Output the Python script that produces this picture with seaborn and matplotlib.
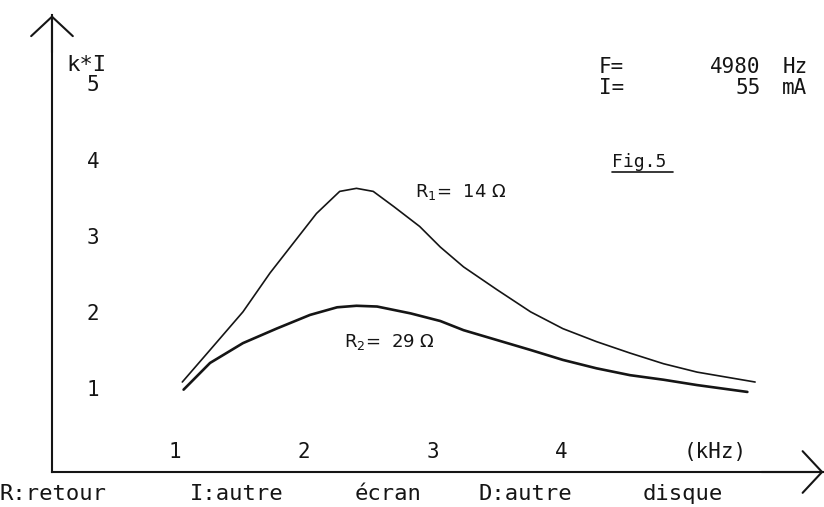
import matplotlib
matplotlib.use("Agg")
import matplotlib.pyplot as plt
import seaborn as sns
import pandas as pd

# readings off the screen (frequency in kHz, k*I)
r1_khz = [1.01, 1.225, 1.48, 1.69, 1.87, 2.05, 2.23, 2.36, 2.49, 2.65, 2.85,
          3.01, 3.19, 3.45, 3.71, 3.96, 4.22, 4.48, 4.74, 5.00, 5.45]
r1_ki = [1.18, 1.60, 2.10, 2.61, 3.00, 3.39, 3.68, 3.72, 3.68, 3.48, 3.22,
         2.95, 2.69, 2.39, 2.10, 1.88, 1.71, 1.56, 1.42, 1.31, 1.18]
r2_khz = [1.02, 1.225, 1.48, 1.74, 2.00, 2.21, 2.36, 2.52, 2.78, 3.01,
          3.19, 3.45, 3.71, 3.96, 4.22, 4.48, 4.74, 5.00, 5.39]
r2_ki = [1.08, 1.43, 1.69, 1.88, 2.06, 2.16, 2.18, 2.17, 2.08, 1.98,
         1.86, 1.73, 1.60, 1.47, 1.36, 1.27, 1.21, 1.14, 1.05]

x_ticks = [1, 2, 3, 4]
y_ticks = [1, 2, 3, 4, 5]
freq_hz = 4980
current_ma = 55
r1_ohm = 14
r2_ohm = 29

df = pd.concat([
    pd.DataFrame({"khz": r1_khz, "ki": r1_ki, "curve": "R1"}),
    pd.DataFrame({"khz": r2_khz, "ki": r2_ki, "curve": "R2"}),
])

sns.set_style("white")
plt.rcParams["font.family"] = ["DejaVu Sans Mono", "DejaVu Sans"]
plt.rcParams["mathtext.fontset"] = "dejavusans"

fig = plt.figure(figsize=(8.24, 5.07), dpi=100)
ax = fig.add_axes([0, 0, 1, 1])
ink = "#151515"

sns.lineplot(data=df[df.curve == "R1"], x="khz", y="ki", color=ink, lw=1.2,
             estimator=None, sort=False, ax=ax)
sns.lineplot(data=df[df.curve == "R2"], x="khz", y="ki", color=ink, lw=1.9,
             estimator=None, sort=False, ax=ax)

ax.set_xlim(-0.403, 5.984)
ax.set_ylim(-0.459, 6.19)
ax.set_xlabel("")
ax.set_ylabel("")

# axes drawn like the old screen: lines through the origin, open arrowheads
for side in ["top", "right"]:
    ax.spines[side].set_visible(False)
ax.spines["left"].set_position(("data", 0))
ax.spines["bottom"].set_position(("data", 0))
ax.spines["left"].set_bounds(0, 5.99)
ax.spines["bottom"].set_bounds(0, 5.98)
for side in ["left", "bottom"]:
    ax.spines[side].set_color(ink)
    ax.spines[side].set_linewidth(1.5)

head = dict(arrowstyle="->,head_length=0.7,head_width=0.75", lw=1.5,
            color=ink, mutation_scale=20, shrinkA=0, shrinkB=0)
ax.annotate("", xy=(0, 5.99), xytext=(0, 5.5), arrowprops=head)
ax.annotate("", xy=(5.98, 0), xytext=(5.5, 0), arrowprops=head)

ax.set_xticks(x_ticks + [5])
ax.set_yticks(y_ticks)
ax.tick_params(direction="in", length=5, width=1.5, color=ink,
               labelleft=False, labelbottom=False)

big = dict(fontsize=15, color=ink)
for v in y_ticks:
    ax.text(0.32, v + 0.07, str(v), ha="center", va="center", **big)
for v in x_ticks:
    ax.text(v - 0.05, 0.26, str(v), ha="center", va="center", **big)
ax.text(5.14, 0.26, "(kHz)", ha="center", va="center", **big)
ax.text(0.11, 5.34, "k*I", ha="left", va="center", fontsize=16, color=ink)

# settings block, top right
ax.text(4.24, 5.31, "F=", ha="left", va="center", **big)
ax.text(5.49, 5.31, f"{freq_hz}", ha="right", va="center", **big)
ax.text(5.66, 5.31, "Hz", ha="left", va="center", **big)
ax.text(4.24, 5.04, "I=", ha="left", va="center", **big)
ax.text(5.49, 5.04, f"{current_ma}", ha="right", va="center", **big)
ax.text(5.66, 5.04, "mA", ha="left", va="center", **big)

# typed caption, underlined
ax.text(4.34, 4.0, "Fig.5", fontsize=13, color=ink)
ax.plot([4.34, 4.81], [3.93, 3.93], color=ink, lw=1.2)
ax.text(2.81, 3.61, rf"R$_1$=  {r1_ohm} $\Omega$", fontsize=13,
        family="DejaVu Sans", color=ink)
ax.text(2.26, 1.64, rf"R$_2$=  {r2_ohm} $\Omega$", fontsize=13,
        family="DejaVu Sans", color=ink)

# menu line at the bottom of the screen
menu_words = ["R:retour", "I:autre", "écran", "D:autre", "disque"]
menu_left_px = [0, 190, 355, 478, 643]
for word, px in zip(menu_words, menu_left_px):
    ax.text((px - 52) / 129, -0.367, word, ha="left", va="baseline",
            fontsize=16, color=ink)

fig.savefig("out.png", dpi=100)
